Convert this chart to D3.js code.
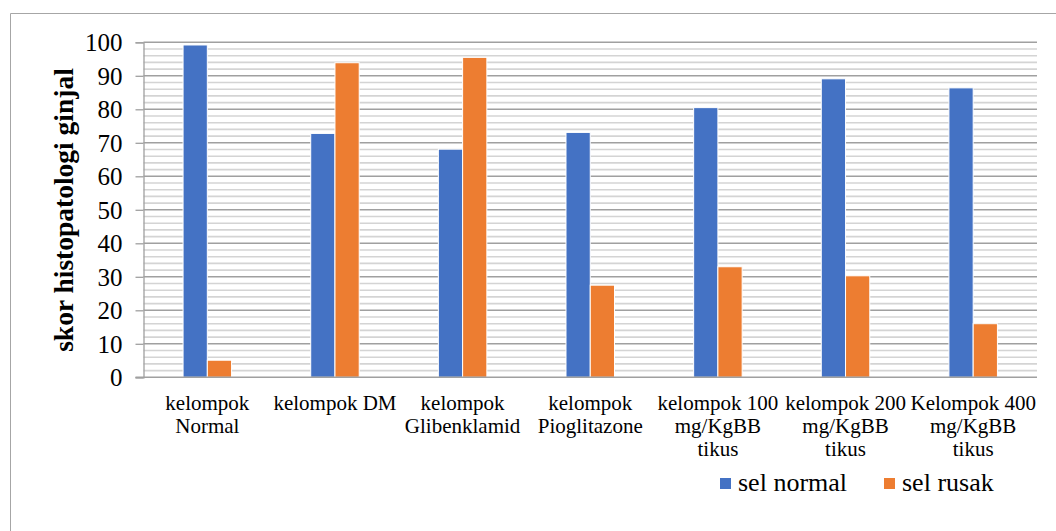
<!DOCTYPE html>
<html>
<head>
<meta charset="utf-8">
<script src="https://cdn.jsdelivr.net/npm/d3@7"></script>
<style>
  html, body { margin: 0; padding: 0; background: #fff; }
  svg { display: block; }
</style>
</head>
<body>
<svg id="chart" width="1056" height="531"></svg>
<script>
// Kidney histopathology scores per treatment group
const categories = [
  ["kelompok", "Normal"],
  ["kelompok DM"],
  ["kelompok", "Glibenklamid"],
  ["kelompok", "Pioglitazone"],
  ["kelompok 100", "mg/KgBB", "tikus"],
  ["kelompok 200", "mg/KgBB", "tikus"],
  ["Kelompok 400", "mg/KgBB", "tikus"]
];
const seriesNames = ["sel normal", "sel rusak"];
const selNormal = [99.2, 72.8, 68.1, 73.1, 80.5, 89.1, 86.4];
const selRusak  = [5.1, 93.9, 95.5, 27.5, 33.0, 30.3, 16.0];
const yTicks = [0, 10, 20, 30, 40, 50, 60, 70, 80, 90, 100];
const yTitle = "skor histopatologi ginjal";

const colors = ["#4472C4", "#ED7D31"];
const serif = "'Liberation Serif', 'Times New Roman', serif";

const svg = d3.select("#chart");

// outer frame (only top and left edges fall inside the canvas)
svg.append("path")
  .attr("d", "M10.5,531 V13.5 H1056")
  .attr("fill", "none")
  .attr("stroke", "#a6a6a6")
  .attr("stroke-width", 1);

const plot = { left: 143.5, right: 1037, top: 42.3, bottom: 377.3 };

const catKeys = categories.map(c => c.join(" "));
const x0 = d3.scaleBand()
  .domain(catKeys)
  .range([plot.left, plot.right])
  .paddingInner(0.62)
  .paddingOuter(0.31);
const x1 = d3.scaleBand()
  .domain(seriesNames)
  .range([0, x0.bandwidth()]);
const y = d3.scaleLinear().domain([0, 100]).range([plot.bottom, plot.top]);

// minor gridlines every 2
const minor = d3.range(2, 100, 2).filter(v => v % 10 !== 0);
svg.append("g").selectAll("line").data(minor).join("line")
  .attr("x1", plot.left).attr("x2", plot.right)
  .attr("y1", d => y(d)).attr("y2", d => y(d))
  .attr("stroke", "#d4d4d4").attr("stroke-width", 1.6);

// major gridlines every 10
svg.append("g").selectAll("line").data(yTicks.filter(v => v > 0)).join("line")
  .attr("x1", plot.left).attr("x2", plot.right)
  .attr("y1", d => y(d)).attr("y2", d => y(d))
  .attr("stroke", "#a0a0a0").attr("stroke-width", 1.6);

// y axis
const yAxis = d3.axisLeft(y).tickValues(yTicks).tickSize(8).tickPadding(13);
const gy = svg.append("g").attr("transform", `translate(${plot.left},0)`).call(yAxis);
gy.attr("font-family", null).attr("font-size", null);
gy.select(".domain").attr("stroke", "#a0a0a0").attr("stroke-width", 1.3);
gy.selectAll(".tick line").attr("stroke", "#a0a0a0").attr("stroke-width", 1.3);
gy.selectAll(".tick text")
  .style("font-family", serif)
  .style("font-size", "25px")
  .attr("fill", "#000")
  .attr("dy", "0.34em");

// bars
const data = categories.map((c, i) => ({ key: catKeys[i], values: [selNormal[i], selRusak[i]] }));
const groups = svg.append("g").selectAll("g").data(data).join("g")
  .attr("transform", d => `translate(${x0(d.key)},0)`);
groups.selectAll("rect")
  .data(d => d.values.map((v, j) => ({ name: seriesNames[j], value: v, j })))
  .join("rect")
  .attr("x", d => x1(d.name))
  .attr("width", x1.bandwidth())
  .attr("y", d => y(d.value))
  .attr("height", d => y(0) - y(d.value))
  .attr("fill", d => colors[d.j])
  .attr("stroke", "#ffffff")
  .attr("stroke-width", 1);

// x axis baseline
svg.append("line")
  .attr("x1", plot.left - 8).attr("x2", plot.right)
  .attr("y1", plot.bottom).attr("y2", plot.bottom)
  .attr("stroke", "#a0a0a0").attr("stroke-width", 1.6);

// category labels
const labels = svg.append("g").selectAll("text").data(categories).join("text")
  .attr("text-anchor", "middle")
  .style("font-family", serif)
  .style("font-size", "21px")
  .attr("fill", "#000")
  .attr("transform", (d, i) => `translate(${x0(catKeys[i]) + x0.bandwidth() / 2},410)`);
labels.selectAll("tspan").data(d => d).join("tspan")
  .attr("x", 0)
  .attr("y", (d, k) => k * 22.8)
  .text(d => d);

// y axis title
svg.append("text")
  .attr("transform", "translate(73,210) rotate(-90)")
  .attr("text-anchor", "middle")
  .style("font-family", serif)
  .style("font-size", "27.5px")
  .style("font-weight", "bold")
  .attr("fill", "#000")
  .text(yTitle);

// legend
const legendX = [720, 884];
const legend = svg.append("g").selectAll("g").data(seriesNames).join("g")
  .attr("transform", (d, i) => `translate(${legendX[i]},0)`);
legend.append("rect")
  .attr("x", 0).attr("y", 478)
  .attr("width", 11).attr("height", 11)
  .attr("fill", (d, i) => colors[i]);
legend.append("text")
  .attr("x", 18).attr("y", 491)
  .style("font-family", serif)
  .style("font-size", "26px")
  .attr("fill", "#000")
  .text(d => d);
</script>
</body>
</html>
